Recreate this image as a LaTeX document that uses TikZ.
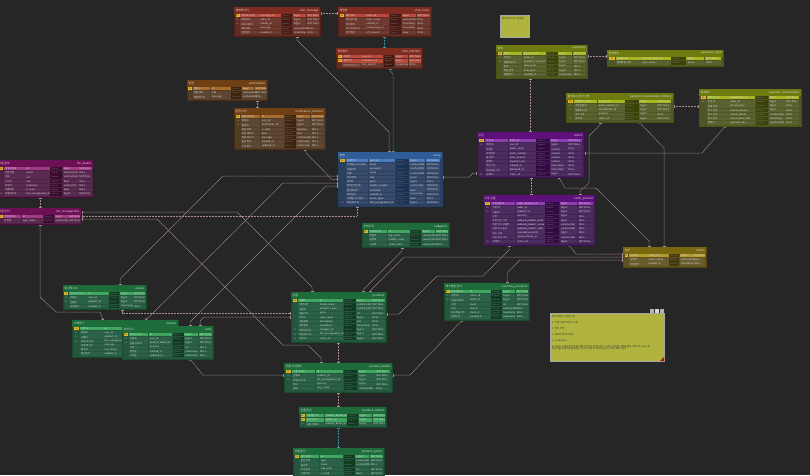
\documentclass[tikz,border=0pt]{standalone}
\usepackage{fontspec}
\setmainfont{Noto Sans CJK KR}
\usetikzlibrary{arrows.meta}
\pgfdeclarelayer{back}\pgfdeclarelayer{lines}
\pgfsetlayers{back,lines,main}
\definecolor{bgC}{HTML}{262626}
\definecolor{connC}{HTML}{A88A91}
\definecolor{tealC}{HTML}{3E8FA3}
\definecolor{keyY}{HTML}{E2B72A}
\definecolor{fkC}{HTML}{D8A8B8}
\definecolor{noteC}{HTML}{B0B43E}
% table colour sets: H header, B body, P primary-key row, C cell
\definecolor{redH}{HTML}{7E2C20}\definecolor{redB}{HTML}{5E2E25}\definecolor{redP}{HTML}{B9493B}\definecolor{redC}{HTML}{6E392F}
\definecolor{brownH}{HTML}{6F4014}\definecolor{brownB}{HTML}{513C27}\definecolor{brownP}{HTML}{A96B2D}\definecolor{brownC}{HTML}{5E4732}
\definecolor{oliveH}{HTML}{6E7A10}\definecolor{oliveB}{HTML}{4E5526}\definecolor{oliveP}{HTML}{A7B61F}\definecolor{oliveC}{HTML}{5A622F}
\definecolor{magH}{HTML}{6C0F54}\definecolor{magB}{HTML}{4E2245}\definecolor{magP}{HTML}{A03C86}\definecolor{magC}{HTML}{5B2A51}
\definecolor{blueH}{HTML}{305C98}\definecolor{blueB}{HTML}{2C3F5C}\definecolor{blueP}{HTML}{4B7CBF}\definecolor{blueC}{HTML}{374C6C}
\definecolor{purpH}{HTML}{5D1079}\definecolor{purpB}{HTML}{412353}\definecolor{purpP}{HTML}{8E3EB0}\definecolor{purpC}{HTML}{4D2C61}
\definecolor{greenH}{HTML}{1F6C3B}\definecolor{greenB}{HTML}{24553D}\definecolor{greenP}{HTML}{3FA55F}\definecolor{greenC}{HTML}{2B6146}
\definecolor{goldH}{HTML}{7A6810}\definecolor{goldB}{HTML}{5C5225}\definecolor{goldP}{HTML}{B39A2F}\definecolor{goldC}{HTML}{6A5D2D}
\tikzset{
  hdrtxt/.style={font=\fontsize{2.8}{3}\selectfont, text=white!88!black, inner sep=0},
  celltxt/.style={font=\fontsize{2.4}{2.6}\selectfont, text=white!85!black, inner sep=0, anchor=west},
  domtxt/.style={font=\fontsize{2}{2.2}\selectfont, text=white!45!black, inner sep=0, anchor=west},
  pktxt/.style={font=\fontsize{1.9}{2}\selectfont, text=black!85, inner sep=0},
  fktxt/.style={font=\fontsize{1.9}{2}\selectfont, text=fkC, inner sep=0},
  notebox/.style={draw=gray!70, line width=0.5pt, fill=noteC, anchor=north west, inner sep=0},
  notetxt/.style={font=\fontsize{2.4}{2.7}\selectfont, text=black!80, inner sep=0, anchor=north west, align=left},
  conn/.style={draw=connC, line width=0.5pt, dash pattern=on 1pt off 0.5pt,
    {Rectangle[length=1.2pt,width=2.6pt]}-{Rectangle[length=1.2pt,width=2.6pt]}},
  tconn/.style={conn, draw=tealC}
}
\def\keyP{P}\def\keyF{F}
\newcommand{\erdtable}[9]{%
  \pgfmathsetmacro{\tblh}{6.5+#5*4.2+1}%
  \node[draw=#6H!70!black, line width=0.4pt, fill=#6B, minimum width=#4, minimum height=\tblh, anchor=north west, inner sep=0] (#1) at (#2,#3) {};%
  \fill[#6H] (#2,#3) rectangle ++(#4,6.5);%
  \node[hdrtxt, anchor=west] at ({#2+1.5},{#3+3.3}) {#7};%
  \node[hdrtxt, anchor=east] at ({#2+#4-1.5},{#3+3.3}) {#8};%
  \foreach \rk/\rl/\rp/\rt/\rn [count=\i] in {#9}{%
    \pgfmathsetmacro{\ry}{#3+6.9+(\i-1)*4.2}%
    \pgfmathsetmacro{\rmid}{\ry+1.8}%
    \edef\rkx{\rk}%
    \ifx\rkx\keyP\def\cf{#6P}\else\def\cf{#6C}\fi
    \fill[fill=\cf] ({#2+0.075*#4},{\ry}) rectangle ({#2+0.29*#4},{\ry+3.5});
    \fill[fill=\cf] ({#2+0.295*#4},{\ry}) rectangle ({#2+0.55*#4},{\ry+3.5});
    \fill[fill=#6H!55!black] ({#2+0.555*#4},{\ry}) rectangle ({#2+0.68*#4},{\ry+3.5});
    \fill[fill=\cf] ({#2+0.685*#4},{\ry}) rectangle ({#2+0.84*#4},{\ry+3.5});
    \fill[fill=\cf] ({#2+0.845*#4},{\ry}) rectangle ({#2+0.985*#4},{\ry+3.5});
    \node[celltxt] at ({#2+0.085*#4},{\rmid}) {\rl};
    \node[celltxt] at ({#2+0.305*#4},{\rmid}) {\rp};
    \node[domtxt] at ({#2+0.565*#4},{\rmid}) {Domain};
    \node[celltxt] at ({#2+0.695*#4},{\rmid}) {\rt};
    \node[celltxt] at ({#2+0.855*#4},{\rmid}) {\rn};
    \ifx\rkx\keyP
      \fill[keyY] ({#2+0.018*#4},{\ry+0.3}) rectangle ({#2+0.066*#4},{\ry+3.2});
      \node[pktxt] at ({#2+0.042*#4},{\rmid}) {Pk};
    \fi
    \ifx\rkx\keyF
      \node[fktxt] at ({#2+0.042*#4},{\rmid}) {Fk};
    \fi
  }%
}
\begin{document}
\begin{tikzpicture}[x=1pt,y=-1pt]
\useasboundingbox (0,0) rectangle (810,475);
\begin{pgfonlayer}{back}
\fill[bgC] (0,0) rectangle (810,475);
\end{pgfonlayer}

% ---------------- chat ----------------
\erdtable{chatmsg}{234}{7}{86}{5}{red}{채팅메시지}{chat\_message}{%
P/채팅메시지ID/message\_id/bigint/NOT NULL,%
F/채팅방ID/room\_id/bigint/NOT NULL,%
F/보낸사람ID/sender\_id/bigint/NOT NULL,%
N/채팅내용/message/varchar(255)/NULL,%
N/생성일자/created\_at/timestamp/NULL}
\erdtable{chatroom}{338}{7}{93}{5}{red}{채팅방}{chat\_room}{%
P/채팅방ID/room\_id/bigint/NOT NULL,%
N/채팅방이름/room\_name/varchar(255)/NULL,%
N/생성일자/created\_at/timestamp/NULL,%
N/마지막 메시지/lastMessage\_at/timestamp/NULL,%
N/참여인원/att\_amount/Long/NULL}
\erdtable{chatmember}{336}{48}{86}{3}{red}{채팅참여}{chat\_member}{%
P/회원ID/user\_id/bigint/NOT NULL,%
P/채팅방ID/chatroom\_id/bigint/NOT NULL,%
N/마지막 읽은시간/last\_read\_at/timestamp/NULL}

% ---------------- notifications ----------------
\erdtable{notif}{187}{80}{80}{3}{brown}{알림}{notifications}{%
P/알림 ID/id/bigint/NOT NULL,%
N/알림 제목/title/varchar(255)/NOT NULL,%
N/알림메시지/message/varchar(255)/NULL}
\erdtable{notifhist}{234}{108}{91}{8}{brown}{알림 이력}{notification\_histories}{%
P/알림 이력 ID/id/bigint/NOT NULL,%
F/회원ID/user\_id/bigint/NOT NULL,%
F/알림ID/notification\_id/bigint/NOT NULL,%
N/읽음 여부/is\_read/boolean/NULL,%
N/요청 데이터/data/text/NULL,%
N/알림 메시지/message/varchar(255)/NULL,%
N/발송 일자/created\_at/timestamp/NULL,%
N/수정 일자/updated\_at/timestamp/NULL}

% ---------------- payments ----------------
\erdtable{payments}{496}{45}{91}{6}{olive}{결제}{payments}{%
P/결제ID/payment\_id/bigint/NOT NULL,%
F/주문ID/order\_id/bigint/NOT NULL,%
F/결제방법 ID/payments\_type\_id/bigint/NOT NULL,%
N/총액/total\_price/bigint/NULL,%
N/최종 금액/final\_price/bigint/NULL,%
N/결제일자/created\_at/timestamp/NULL}
\erdtable{paytype}{607}{50}{116}{2}{olive}{결제방법}{payments\_type}{%
P/결제방법ID/payment\_type\_id/bigint/NOT NULL,%
N/결제방법 이름/type\_name/enum/NULL}
\erdtable{pch}{566}{93}{107}{5}{olive}{결제취소 관리 이력}{payment\_cancellations\_history}{%
P/결제취소 이력 ID/history\_id/bigint/NOT NULL,%
F/주문상품 ID/order\_product\_id/bigint/NOT NULL,%
F/결제취소 ID/cancellation\_id/bigint/NOT NULL,%
N/취소 수량/quantity/bigint/NULL,%
F/상태 ID/status\_id/bigint/NOT NULL}
\erdtable{pc}{699}{89}{102}{7}{olive}{결제취소}{payment\_cancellations}{%
P/결제취소 ID/cancellation\_id/bigint/NOT NULL,%
F/주문 ID/order\_id/bigint/NOT NULL,%
N/환불 금액/refund\_price/bigint/NULL,%
N/취소 금액/cancel\_amount/bigint/NULL,%
N/취소 사유/cancel\_reason/varchar(255)/NULL,%
N/취소 일자/cancel\_date\_time/timestamp/NULL,%
N/결제키/payment\_key/varchar(255)/NULL}

% ---------------- files ----------------
\erdtable{filedet}{-3}{160}{96}{7}{mag}{파일 정보}{file\_details}{%
P/파일상세ID/id/bigint/NOT NULL,%
N/원본이름/name/varchar(255)/NULL,%
N/URL/url/varchar(255)/NOT NULL,%
N/사이즈/size/float/NULL,%
N/확장자/extension/varchar(10)/NULL,%
N/대표여부/is\_main/bool/NULL,%
F/파일관리ID/file\_management\_id/bigint/NOT NULL}
\erdtable{filemgmt}{-3}{208}{84}{2}{mag}{파일 관리}{file\_management}{%
P/파일관리ID/id/bigint/NOT NULL,%
N/타입명/type\_name/varchar(50)/NOT NULL}

% ---------------- users ----------------
\erdtable{users}{338}{152}{104}{11}{blue}{회원}{users}{%
P/회원번호/user\_id/bigint/NOT NULL,%
N/이메일(username)/email/varchar(255)/NOT NULL,%
N/비밀번호/password/varchar(255)/NOT NULL,%
N/이름/name/varchar(255)/NOT NULL,%
N/회원 권한/role/enum/NOT NULL,%
N/포인트/point/bigint/NULL,%
N/휴대전화 번호/mobile\_number/varchar(20)/NOT NULL,%
N/활성화여부/activated/bool/NOT NULL,%
N/생성일자/created\_at/timestamp/NOT NULL,%
N/이메일 수신 동의/email\_agree/bool/NULL,%
F/파일 관리 ID/file\_management\_id/bigint/NOT NULL}

% ---------------- orders ----------------
\erdtable{orders}{477}{132}{107}{9}{purp}{주문}{orders}{%
P/주문 ID/order\_id/bigint/NOT NULL,%
F/회원 ID/user\_id/bigint/NOT NULL,%
N/주문명/order\_name/varchar/NULL,%
N/주문번호/order\_number/varchar/NULL,%
N/총 금액/total\_amount/varchar/NULL,%
N/결제키/payment\_key/varchar/NULL,%
N/주문 시간/created\_at/timestamp/NULL,%
N/배송완료 시간/delivered\_at/timestamp/NULL,%
F/상태ID/status\_id/bigint/NOT NULL}
\erdtable{orderprod}{483}{195}{112}{10}{purp}{주문 상품}{order\_product}{%
P/주문상품 ID/order\_product\_id/bigint/NOT NULL,%
F/주문 ID/order\_id/bigint/NOT NULL,%
F/상품 ID/product\_id/bigint/NOT NULL,%
N/수량/quantity/bigint/NULL,%
N/주문 당시 가격/ordered\_product\_price/bigint/NULL,%
N/주문 당시 상품명/ordered\_product\_name/varchar(255)/NULL,%
N/주문 당시 옵션/ordered\_product\_color/varchar(255)/NULL,%
N/취소 수량/canceled\_quantity/bigint/NULL,%
N/주문 당시 사진/representative\_url/varchar(255)/NULL,%
F/상태 ID/status\_id/bigint/NOT NULL}
\erdtable{status}{623}{247}{83}{3}{gold}{상태}{status}{%
P/상태 ID/status\_id/bigint/NOT NULL,%
N/상태명/status\_name/varchar(255)/NULL,%
N/생성일자/created\_at/timestamp/NULL}

% ---------------- products ----------------
\erdtable{categories}{362}{223}{87}{4}{green}{카테고리}{categories}{%
P/카테고리 ID/id/bigint/NOT NULL,%
N/대분류/big\_name/varchar(100)/NOT NULL,%
N/중분류/middle\_name/varchar(100)/NOT NULL,%
N/소분류/small\_name/varchar(100)/NULL}
\erdtable{wishes}{63}{285}{83}{4}{green}{위시리스트}{wishes}{%
P/위시리스트 ID/id/bigint/NOT NULL,%
F/회원ID/user\_id/bigint/NOT NULL,%
F/상품ID/product\_id/bigint/NOT NULL,%
N/생성일자/created\_at/timestamp/NULL}
\erdtable{products}{291}{292}{95}{10}{green}{상품}{products}{%
P/상품ID/id/bigint/NOT NULL,%
N/브랜드명/brand\_name/varchar(100)/NOT NULL,%
N/상품명/product\_name/varchar(100)/NOT NULL,%
N/상품가격/price/int/NOT NULL,%
N/조회수/view\_count/bigint/NULL,%
N/상품설명/description/text/NULL,%
N/생성일자/created\_at/timestamp/NULL,%
F/카테고리 ID/category\_id/bigint/NOT NULL,%
F/파일 관리 ID/file\_management\_id/bigint/NOT NULL,%
F/상태 ID/status\_id/bigint/NOT NULL}
\erdtable{inventory}{444}{283}{85}{7}{green}{재고입출 관리}{inventory\_products}{%
P/재고입출 ID/id/bigint/NOT NULL,%
F/상태 ID/status\_id/bigint/NOT NULL,%
F/상품 상세 ID/detail\_id/bigint/NOT NULL,%
N/수량/count/int/NOT NULL,%
N/비고/memo/varchar(255)/NULL,%
N/재고입출시간/stock\_at/timestamp/NULL,%
N/등록시간/created\_at/timestamp/NULL}
\erdtable{reviews}{72}{320}{106}{7}{green}{구매후기}{reviews}{%
P/리뷰 ID/id/bigint/NOT NULL,%
F/회원ID/user\_id/bigint/NOT NULL,%
F/상품ID/product\_id/bigint/NOT NULL,%
F/파일 관리 ID/file\_management\_id/bigint/NOT NULL,%
N/리뷰 메시지/message/varchar(255)/NULL,%
N/별 점수/star\_rating/int/NULL,%
N/생성일자/created\_at/timestamp/NULL}
\erdtable{carts}{122}{326}{91}{6}{green}{장바구니}{carts}{%
P/장바구니 ID/id/bigint/NOT NULL,%
F/회원ID/user\_id/bigint/NOT NULL,%
F/상품 상세 ID/product\_detail\_id/bigint/NOT NULL,%
N/수량/quantity/int/NULL,%
N/생성일/created\_at/timestamp/NULL,%
N/수정일/updated\_at/timestamp/NULL}
\erdtable{proddet}{284}{363}{108}{5}{green}{상품 상세정보}{product\_details}{%
P/상품 상세ID/id/bigint/NOT NULL,%
F/상품ID/product\_id/bigint/NOT NULL,%
F/파일 관리 ID/file\_management\_id/bigint/NOT NULL,%
N/재고/quantity/bigint/NOT NULL,%
N/메모/msg\_name/varchar(255)/NULL}
\erdtable{prodopts}{299}{407}{87}{3}{green}{상품 옵션}{product\_options}{%
P/상품옵션 ID/product\_option\_id/bigint/NOT NULL,%
P/옵션 값 ID/option\_id/bigint/NOT NULL,%
F/상품 상세 ID/product\_detail\_id/bigint/NOT NULL}
\erdtable{optval}{293}{448}{91}{6}{green}{상품 옵션}{product\_option}{%
P/옵션 값 ID/id/bigint/NOT NULL,%
N/옵션 타입/type/varchar(50)/NOT NULL,%
N/옵션명/name/varchar(255)/NULL,%
N/추가금액/add\_price/int/NOT NULL,%
N/사용여부/is\_used/bool/NOT NULL,%
N/생성일자/created\_at/timestamp/NOT NULL}

% ---------------- notes ----------------
\node[notebox, minimum width=29, minimum height=22] (notepay) at (500,15) {};
\node[notetxt] (notepaytxt) at (502,17) {결제 방법 추가 필요함};
\node[notebox, minimum width=114, minimum height=48] (bignote) at (550,313) {};
\node[notetxt] (bignotetxt) at (552,315.5) {데이터베이스 설계 수칙\\[3.2pt]
1. 자연키보다 대리키 사용\\[3.2pt]
2. 약어 지양\\[3.2pt]
3. 명확한 데이터 타입\\[3.2pt]
4. snake case\\[3.2pt]
5. prefix 사용은 한 테이블 내에서만 하고 외래키 참조 시에는 테이블 이름을 붙여 사용 (예: user\_id)\\
일관성을 위해 테이블 명칭은 복수형 사용 및 명확한 prefix 사용 (예외 가능)};
\fill[red!80!black] (664,357) -- (664,361) -- (660,361) -- cycle;
\fill[gray!60] (650,308.5) rectangle (654,312.5);
\fill[white!85!black] (655,308.5) rectangle (659,312.5);
\fill[gray!60] (660,308.5) rectangle (664,312.5);

% ---------------- connectors ----------------
\begin{pgfonlayer}{lines}
\draw[conn] (chatmsg.east |- 0,13) -- (chatroom.west |- 0,13);
\draw[conn] (chatmsg.south -| 297,0) -- (297,40) -- (389,132) -- (users.north -| 389,0);
\draw[tconn] (chatroom.south -| 384,0) -- (chatmember.north -| 384,0);
\draw[tconn] (chatmember.south -| 390,0) -- (390,71) -- (393,74) -- (users.north -| 393,0);
\draw[conn] (notif.south -| 257,0) -- (notifhist.north -| 257,0);
\draw[conn] (notifhist.south -| 305,0) -- (307,154) -- (332,179.5) -- (users.west |- 0,179.5);
\draw[conn] (users.west |- 0,176) -- (223,176) -- (120,279) -- (wishes.north -| 120,0);
\draw[conn] (users.west |- 0,183) -- (283,183) -- (reviews.north -| 146,0);
\draw[conn] (users.west |- 0,186) -- (326,186) -- (190,322) -- (carts.north -| 190,0);
\draw[conn] (users.south -| 357,0) -- (357,216) -- (filemgmt.east |- 0,216);
\draw[conn] (filemgmt.east |- 0,212) -- (237,212) -- (312,287) -- (products.north -| 312,0);
\draw[conn] (filemgmt.east |- 0,219) -- (157,219) -- (270,332) -- (283,345) -- (308,345) -- (321,358) -- (proddet.north -| 321,0);
\draw[conn] (filedet.south -| 40,0) -- (filemgmt.north -| 40,0);
\draw[conn] (filemgmt.south -| 40,0) -- (40,297) -- (56,312) -- (100,312) -- (reviews.north -| 103,0);
\draw[conn] (payments.south -| 530,0) -- (orders.north -| 530,0);
\draw[conn] (payments.east |- 0,56) -- (paytype.west |- 0,56);
\draw[conn] (pch.east |- 0,106) -- (pc.west |- 0,106);
\draw[conn] (pch.south -| 600,0) -- (600,125) -- (589,136) -- (589,183) -- (580,191) -- (orderprod.north -| 580,0);
\draw[conn] (pch.south -| 639,0) -- (664,148) -- (status.north -| 664,0);
\draw[conn] (pc.south -| 725,0) -- (702,153) -- (orders.east |- 0,153);
\draw[conn] (users.east |- 0,177) -- (469,177) -- (473,173) -- (orders.west |- 0,173);
\draw[conn] (orders.south -| 531,0) -- (orderprod.north -| 531,0);
\draw[conn] (orders.south -| 559,0) -- (565,188) -- (596,188) -- (649,241) -- (status.north -| 649,0);
\draw[conn] (orderprod.south -| 569,0) -- (576,254) -- (status.west |- 0,254);
\draw[conn] (status.west |- 0,257) -- (404,257) -- (370,291) -- (products.north -| 370,0);
\draw[conn] (status.west |- 0,260) -- (520,260) -- (507,273) -- (inventory.north -| 507,0);
\draw[conn] (categories.south -| 402,0) -- (402,251) -- (363,290) -- (products.north -| 363,0);
\draw[conn] (orderprod.south -| 509,0) -- (509,250) -- (483,276) -- (437,276) -- (399,314) -- (products.east |- 0,314);
\draw[conn] (inventory.south -| 462,0) -- (410,375) -- (proddet.east |- 0,375);
\draw[conn] (products.south -| 338,0) -- (proddet.north -| 338,0);
\draw[conn] (proddet.south -| 338,0) -- (prodopts.north -| 338,0);
\draw[tconn] (prodopts.south -| 338,0) -- (optval.north -| 338,0);
\draw[conn] (wishes.south -| 122,0) -- (122,313) -- (products.west |- 0,313);
\draw[conn] (carts.north -| 200,0) -- (200,321) -- (204,317) -- (products.west |- 0,317);
\draw[conn] (carts.south -| 190,0) -- (203,375) -- (proddet.west |- 0,375);
\end{pgfonlayer}
\end{tikzpicture}
\end{document}
